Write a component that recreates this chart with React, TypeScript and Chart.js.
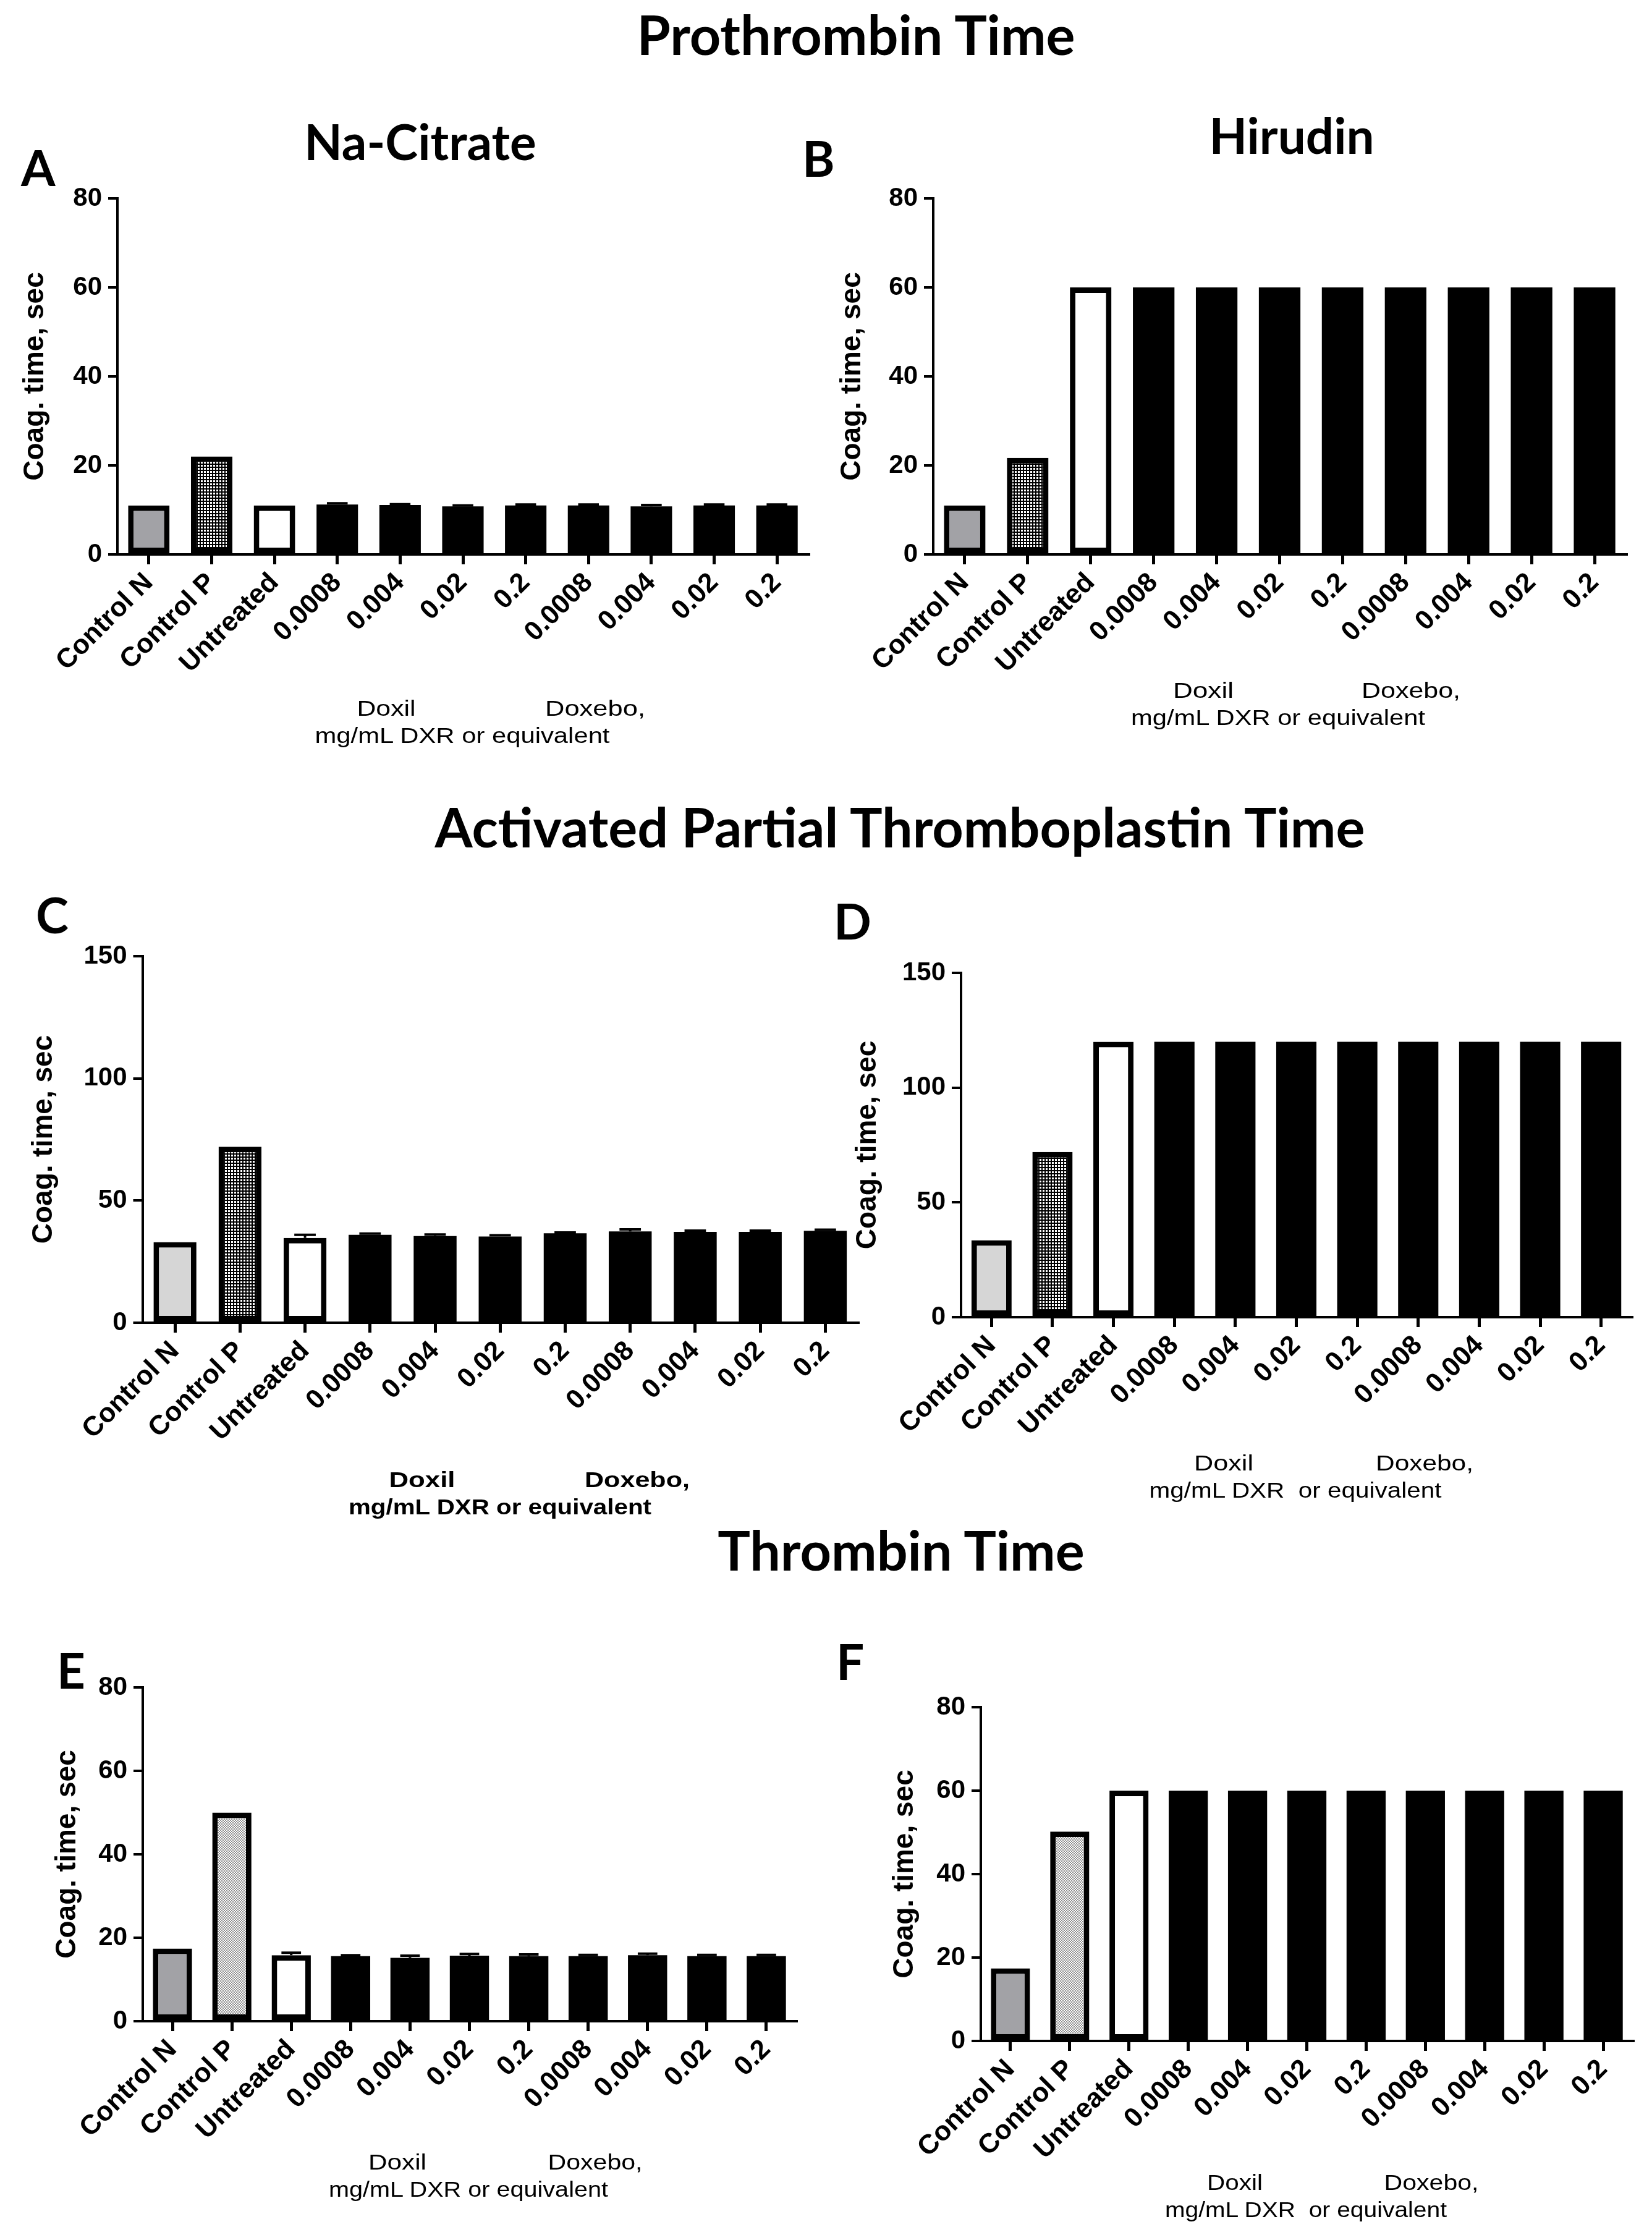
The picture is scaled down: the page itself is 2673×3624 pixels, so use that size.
import React, { useEffect, useRef } from 'react';
import { Chart, registerables } from 'chart.js';

Chart.register(...registerables);

// ---------- DATA ----------
const categories = ['Control N', 'Control P', 'Untreated', '0.0008', '0.004', '0.02', '0.2', '0.0008', '0.004', '0.02', '0.2'];

const ptCitrate = [11.0, 22.0, 11.0, 11.2, 11.1, 10.8, 11.0, 11.0, 10.8, 11.0, 11.0];
const ptCitrateErr = [0, 0, 0, 0.3, 0.2, 0.2, 0.2, 0.2, 0.3, 0.2, 0.2];
const ptHirudin = [11.0, 21.7, 60, 60, 60, 60, 60, 60, 60, 60, 60];

const apttCitrate = [33.0, 72.0, 34.7, 36.0, 35.5, 35.3, 36.6, 37.4, 37.2, 37.2, 37.6];
const apttCitrateErr = [0, 0, 1.3, 0.5, 0.6, 0.5, 0.3, 0.8, 0.5, 0.5, 0.5];
const apttHirudin = [33.5, 72.0, 120, 120, 120, 120, 120, 120, 120, 120, 120];

const ttCitrate = [17.4, 50.0, 15.8, 15.6, 15.2, 15.7, 15.6, 15.6, 15.8, 15.6, 15.6];
const ttCitrateErr = [0, 0, 0.6, 0.2, 0.5, 0.4, 0.4, 0.3, 0.4, 0.3, 0.3];
const ttHirudin = [17.4, 50.2, 60, 60, 60, 60, 60, 60, 60, 60, 60];

const yTitle = 'Coag. time, sec';
const groupLabels = ['Doxil', 'Doxebo,'];
const unitLabel = 'mg/mL DXR or equivalent';
const unitLabelWide = 'mg/mL DXR  or equivalent';

// ---------- STYLE / LAYOUT ----------
const TICK_FONT = "'Liberation Sans', Arial, sans-serif";
const TITLE_FONT = "Lato, 'Open Sans', sans-serif";

function makePattern(kind: 'dark' | 'light'): CanvasPattern | string {
  const c = document.createElement('canvas');
  const ctx = c.getContext('2d');
  if (!ctx) return '#888';
  if (kind === 'dark') {
    c.width = 5; c.height = 5;
    ctx.fillStyle = '#000'; ctx.fillRect(0, 0, 5, 5);
    ctx.fillStyle = '#fff'; ctx.fillRect(1, 1, 3, 3);
  } else {
    c.width = 4; c.height = 4;
    ctx.fillStyle = '#fff'; ctx.fillRect(0, 0, 4, 4);
    ctx.fillStyle = '#8e8e8e'; ctx.fillRect(0, 0, 2, 2); ctx.fillRect(2, 2, 2, 2);
  }
  return ctx.createPattern(c, 'repeat') || '#888';
}

type PanelCfg = {
  values: number[];
  errors?: number[];
  max: number;
  step: number;
  gray: string;
  pattern: 'dark' | 'light';
  titleX: number; left: number; right: number; top: number; bottom: number;
};

const panels: PanelCfg[] = [
  { values: ptCitrate, errors: ptCitrateErr, max: 80, step: 20, gray: '#a2a2a6', pattern: 'dark', titleX: 57, left: 190, right: 1308, top: 320.7, bottom: 896.7 },
  { values: ptHirudin, max: 80, step: 20, gray: '#a2a2a6', pattern: 'dark', titleX: 1379, left: 1510, right: 2631, top: 320.7, bottom: 896.7 },
  { values: apttCitrate, errors: apttCitrateErr, max: 150, step: 50, gray: '#d6d6d6', pattern: 'dark', titleX: 71, left: 230.5, right: 1388, top: 1546.5, bottom: 2139.9 },
  { values: apttHirudin, max: 150, step: 50, gray: '#d6d6d6', pattern: 'dark', titleX: 1404, left: 1555, right: 2640, top: 1574, bottom: 2131.2 },
  { values: ttCitrate, errors: ttCitrateErr, max: 80, step: 20, gray: '#a2a2a6', pattern: 'light', titleX: 109, left: 231, right: 1288, top: 2730, bottom: 3269.5 },
  { values: ttHirudin, max: 80, step: 20, gray: '#a2a2a6', pattern: 'light', titleX: 1464, left: 1587, right: 2642, top: 2762, bottom: 3302.2 },
];

const Y_TITLE_SIZE = 46;
const PAD_TOP = 40;
const PAD_RIGHT = 10;
const X_AXIS_H = 240;

const errorBarPlugin = {
  id: 'errorBars',
  afterDatasetsDraw(chart: any, _args: any, opts: any) {
    const errs: number[] | undefined = opts && opts.errors;
    if (!errs) return;
    const meta = chart.getDatasetMeta(0);
    const y = chart.scales.y;
    const ctx = chart.ctx;
    const data = chart.data.datasets[0].data as number[];
    ctx.save();
    ctx.strokeStyle = '#000';
    ctx.lineWidth = 4;
    meta.data.forEach((bar: any, i: number) => {
      const e = errs[i];
      if (!e) return;
      const yTop = y.getPixelForValue(data[i] + e);
      const yBase = y.getPixelForValue(data[i]);
      const w = bar.width;
      ctx.beginPath();
      ctx.moveTo(bar.x, yBase);
      ctx.lineTo(bar.x, yTop);
      ctx.moveTo(bar.x - w * 0.25, yTop);
      ctx.lineTo(bar.x + w * 0.25, yTop);
      ctx.stroke();
    });
    ctx.restore();
  },
};

function Panel({ cfg }: { cfg: PanelCfg }) {
  const ref = useRef<HTMLCanvasElement>(null);
  const canvasLeft = cfg.titleX - Y_TITLE_SIZE / 2;
  const canvasTop = cfg.top - PAD_TOP;
  const width = Math.round(cfg.right + PAD_RIGHT - canvasLeft);
  const height = Math.round(cfg.bottom - canvasTop + X_AXIS_H);
  const yAxisW = cfg.left - canvasLeft;

  useEffect(() => {
    if (!ref.current) return;
    const pat = makePattern(cfg.pattern);
    const bg = cfg.values.map((_, i) => (i === 0 ? cfg.gray : i === 1 ? pat : i === 2 ? '#ffffff' : '#000000'));
    const bw = cfg.values.map((_, i) => (i < 3 ? 9 : 0));
    const chart = new Chart(ref.current, {
      type: 'bar',
      data: {
        labels: categories,
        datasets: [
          {
            data: cfg.values,
            backgroundColor: bg as any,
            borderColor: '#000',
            borderWidth: bw,
            borderSkipped: false,
            barPercentage: 0.66,
            categoryPercentage: 1.0,
          },
        ],
      },
      plugins: [errorBarPlugin],
      options: {
        animation: false,
        responsive: false,
        devicePixelRatio: 1,
        layout: { padding: { top: PAD_TOP, right: PAD_RIGHT, left: 0, bottom: 0 } },
        plugins: {
          legend: { display: false },
          tooltip: { enabled: false },
          errorBars: { errors: cfg.errors },
        } as any,
        scales: {
          x: {
            type: 'category',
            offset: true,
            grid: { offset: false, drawOnChartArea: false, drawTicks: true, tickLength: 16, color: '#000', lineWidth: 5 },
            border: { display: true, color: '#000', width: 4 },
            ticks: {
              autoSkip: false,
              maxRotation: 45,
              minRotation: 45,
              padding: 4,
              color: '#000',
              font: { family: TICK_FONT, size: 44, weight: 'bold' },
            },
            afterFit: (s: any) => { s.height = X_AXIS_H; },
          },
          y: {
            min: 0,
            max: cfg.max,
            ticks: { stepSize: cfg.step, padding: 10, color: '#000', font: { family: TICK_FONT, size: 42, weight: 'bold' } },
            grid: { drawOnChartArea: false, drawTicks: true, tickLength: 15, color: '#000', lineWidth: 4 },
            border: { display: true, color: '#000', width: 4 },
            title: {
              display: true,
              text: yTitle,
              color: '#000',
              padding: 0,
              font: { family: TICK_FONT, size: Y_TITLE_SIZE, weight: 'bold', lineHeight: 1 },
            },
            afterFit: (s: any) => { s.width = yAxisW; },
          },
        },
      } as any,
    });
    return () => chart.destroy();
  }, []);

  return (
    <canvas
      ref={ref}
      width={width}
      height={height}
      style={{ position: 'absolute', left: canvasLeft, top: canvasTop, width, height }}
    />
  );
}

type GroupText = { doxil: number; doxebo: number; unit: number; y1: number; y2: number; bold: boolean; wide?: boolean; w: [number, number, number] };

const groupTexts: GroupText[] = [
  { doxil: 625, doxebo: 963, unit: 748, y1: 1158, y2: 1202, bold: false, w: [95, 162, 477] },
  { doxil: 1947, doxebo: 2283, unit: 2068, y1: 1129, y2: 1173, bold: false, w: [98, 160, 476] },
  { doxil: 683, doxebo: 1031, unit: 809, y1: 2406, y2: 2450, bold: true, w: [107, 170, 490] },
  { doxil: 1980, doxebo: 2305, unit: 2096, y1: 2379, y2: 2423, bold: false, wide: true, w: [96, 158, 473] },
  { doxil: 643, doxebo: 963, unit: 758, y1: 3510, y2: 3554, bold: false, w: [94, 153, 452] },
  { doxil: 1998, doxebo: 2316, unit: 2113, y1: 3543, y2: 3587, bold: false, wide: true, w: [90, 153, 456] },
];

const headings = [
  { text: 'Prothrombin Time', x: 1385, y: 89, size: 88 },
  { text: 'Na-Citrate', x: 680, y: 259, size: 80 },
  { text: 'Hirudin', x: 2090, y: 249, size: 80 },
  { text: 'Activated Partial Thromboplastin Time', x: 1456, y: 1371, size: 88 },
  { text: 'Thrombin Time', x: 1458, y: 2541, size: 88 },
];

const letters = [
  { text: 'A', x: 34, y: 301 },
  { text: 'B', x: 1298, y: 286 },
  { text: 'C', x: 58, y: 1510 },
  { text: 'D', x: 1349, y: 1520 },
  { text: 'E', x: 92, y: 2732 },
  { text: 'F', x: 1353, y: 2718 },
];

export default function App() {
  return (
    <div style={{ position: 'absolute', left: 0, top: 0, width: 2673, height: 3624, background: '#fff', overflow: 'hidden' }}>
      {panels.map((p, i) => (
        <Panel key={i} cfg={p} />
      ))}
      <svg width={2673} height={3624} style={{ position: 'absolute', left: 0, top: 0, pointerEvents: 'none' }}>
        {headings.map((h, i) => (
          <text key={'h' + i} x={h.x} y={h.y} textAnchor="middle" fontFamily={TITLE_FONT} fontWeight="bold" fontSize={h.size} fill="#000">
            {h.text}
          </text>
        ))}
        {letters.map((l, i) => (
          <text key={'l' + i} x={l.x} y={l.y} fontFamily={TITLE_FONT} fontWeight="bold" fontSize={80} fill="#000">
            {l.text}
          </text>
        ))}
        {groupTexts.map((g, i) => (
          <g key={'g' + i} fontFamily={TICK_FONT} fontWeight={g.bold ? 'bold' : 'normal'} fontSize={35} fill="#000">
            <text x={g.doxil} y={g.y1} textAnchor="middle" textLength={g.w[0]} lengthAdjust="spacingAndGlyphs">{groupLabels[0]}</text>
            <text x={g.doxebo} y={g.y1} textAnchor="middle" textLength={g.w[1]} lengthAdjust="spacingAndGlyphs">{groupLabels[1]}</text>
            <text x={g.unit} y={g.y2} textAnchor="middle" textLength={g.w[2]} lengthAdjust="spacingAndGlyphs" style={{ whiteSpace: 'pre' }}>
              {g.wide ? unitLabelWide : unitLabel}
            </text>
          </g>
        ))}
      </svg>
    </div>
  );
}
